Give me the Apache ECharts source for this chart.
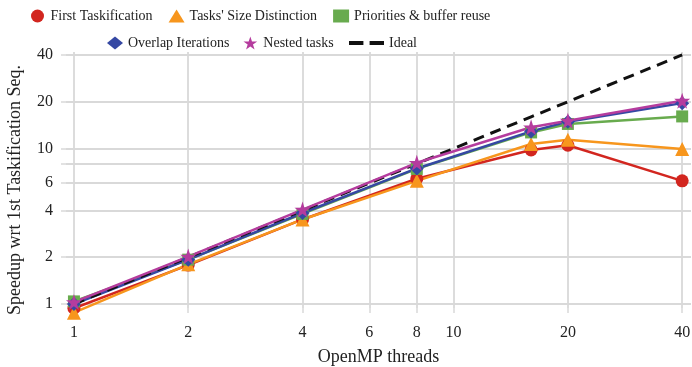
<!DOCTYPE html>
<html>
<head>
<meta charset="utf-8">
<script src="https://cdn.jsdelivr.net/npm/echarts@6/dist/echarts.min.js"></script>
<style>html,body{margin:0;padding:0;background:#fff;}#c{width:692px;height:367px;}</style>
</head>
<body>
<div id="c"></div>
<script>
const threads = [1, 2, 4, 8, 16, 20, 40];
const firstTask = [0.94, 1.78, 3.5, 6.4, 9.8, 10.5, 6.2];
const sizeDist = [0.88, 1.8, 3.5, 6.2, 10.7, 11.4, 9.95];
const priorities = [1.04, 1.93, 3.8, 7.4, 12.7, 14.4, 16.1];
const overlap = [1.0, 1.93, 3.85, 7.45, 12.9, 14.9, 19.6];
const nested = [1.03, 2.02, 4.05, 8.1, 13.7, 15.1, 20.3];
const ideal = [1, 2, 4, 8, 16, 20, 40];
const xTicks = [1, 2, 4, 6, 8, 10, 20, 40];
const yGrid = [1, 2, 4, 6, 8, 10, 20, 40];
const yLabels = [1, 2, 4, 6, 10, 20, 40];

const FONT = 'Liberation Serif';
const STAR = 'path://M50,0L61.8,35.1L98.6,35.1L68.8,57L80,92L50,70.4L20,92L31.2,57L1.4,35.1L38.2,35.1Z';
const pair = arr => threads.map((t, i) => [t, arr[i]]);

function mk(name, data, color, symbol, size) {
  return {
    name, type: 'line', data: pair(data), clip: false,
    symbol, symbolSize: size,
    lineStyle: { color, width: 2.5 },
    itemStyle: { color },
    emphasis: { disabled: true }
  };
}

const legText = { fontFamily: FONT, fontSize: 14, color: '#222' };

const chart = echarts.init(document.getElementById('c'));
chart.setOption({
  animation: false,
  textStyle: { fontFamily: FONT },
  legend: [
    {
      left: 26, top: 4, itemWidth: 16, itemHeight: 13, itemGap: 16,
      textStyle: legText,
      data: [
        { name: 'First Taskification', icon: 'circle' },
        { name: "Tasks' Size Distinction", icon: 'triangle' },
        { name: 'Priorities & buffer reuse', icon: 'rect' }
      ]
    },
    {
      left: 102, top: 31, itemWidth: 16, itemHeight: 13, itemGap: 14,
      textStyle: legText,
      data: [
        { name: 'Overlap Iterations', icon: 'diamond' },
        { name: 'Nested tasks', icon: STAR }
      ]
    },
    {
      left: 344, top: 31, itemWidth: 35, itemHeight: 5,
      textStyle: legText,
      data: [
        { name: 'Ideal', icon: 'path://M0,0h14v4h-14zM20,0h14v4h-14z' }
      ]
    }
  ],
  grid: { left: 66, right: 1, top: 52, bottom: 59, containLabel: false, outerBoundsMode: 'none' },
  xAxis: {
    type: 'log', min: 0.953, max: 42.2,
    name: 'OpenMP threads', nameLocation: 'middle', nameGap: 40,
    nameTextStyle: { fontFamily: FONT, fontSize: 18, color: '#222' },
    axisLine: { show: false },
    axisTick: { show: true, customValues: xTicks, length: 5, lineStyle: { color: '#d9d9d9', width: 1.5 } },
    axisLabel: { customValues: xTicks, margin: 17, fontFamily: FONT, fontSize: 16, color: '#222' },
    splitLine: { show: true, lineStyle: { color: '#d9d9d9', width: 1.8 } },
    minorTick: { show: false }, minorSplitLine: { show: false }
  },
  yAxis: {
    type: 'log', min: 0.943, max: 41.8,
    name: 'Speedup wrt 1st Taskification Seq.', nameLocation: 'middle', nameGap: 42, nameRotate: 90,
    nameTextStyle: { fontFamily: FONT, fontSize: 18, color: '#222', padding: [0, 20, 0, 0] },
    axisLine: { show: false },
    axisTick: { show: true, customValues: yGrid, length: 5, lineStyle: { color: '#d9d9d9', width: 1.5 } },
    axisLabel: { customValues: yLabels, margin: 13, fontFamily: FONT, fontSize: 16, color: '#222' },
    splitLine: { show: true, lineStyle: { color: '#d9d9d9', width: 1.8 } },
    minorTick: { show: false }, minorSplitLine: { show: false }
  },
  series: [
    mk('First Taskification', firstTask, '#d2261f', 'circle', 13),
    mk("Tasks' Size Distinction", sizeDist, '#f7961d', 'triangle', 14),
    mk('Priorities & buffer reuse', priorities, '#68ab4e', 'rect', 12),
    mk('Overlap Iterations', overlap, '#3548a3', 'diamond', 14),
    {
      name: 'Ideal', type: 'line', data: pair(ideal), clip: false, symbol: 'none',
      lineStyle: { color: '#111', width: 3, type: [11, 7] },
      itemStyle: { color: '#111' }, emphasis: { disabled: true }
    },
    mk('Nested tasks', nested, '#b53c9e', STAR, 16)
  ]
});
</script>
</body>
</html>
